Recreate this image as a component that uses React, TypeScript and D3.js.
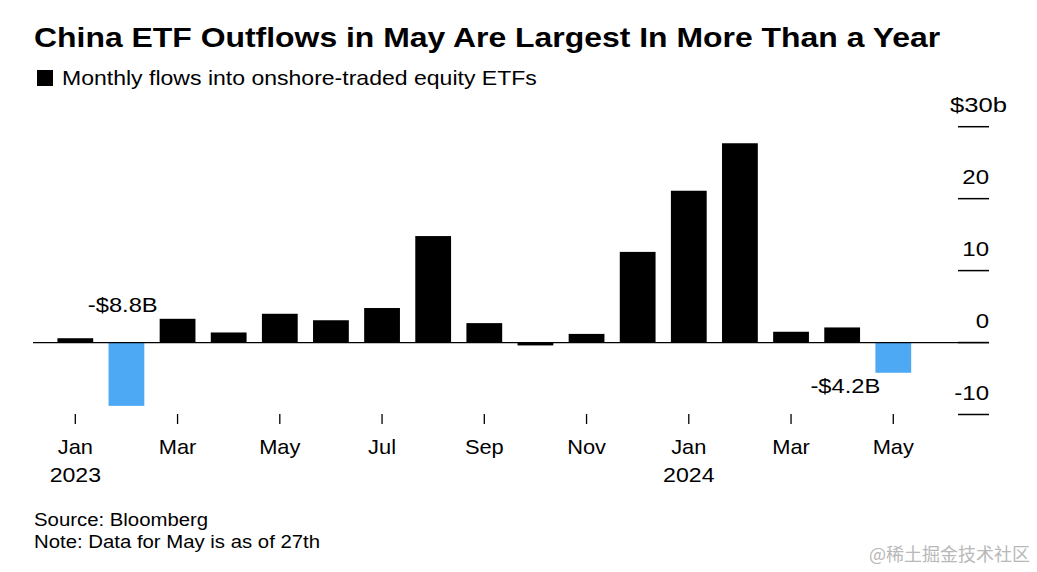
import React from "react";
import * as d3 from "d3";

const months = [
  "2023-01", "2023-02", "2023-03", "2023-04", "2023-05", "2023-06", "2023-07", "2023-08",
  "2023-09", "2023-10", "2023-11", "2023-12", "2024-01", "2024-02", "2024-03", "2024-04", "2024-05",
];
const flows = [0.6, -8.8, 3.3, 1.4, 4.0, 3.1, 4.8, 14.8, 2.7, -0.4, 1.2, 12.6, 21.1, 27.7, 1.5, 2.1, -4.2];
const highlighted = ["2023-02", "2024-05"];
const xTickMonths = ["2023-01", "2023-03", "2023-05", "2023-07", "2023-09", "2023-11", "2024-01", "2024-03", "2024-05"];
const xTickLabels = ["Jan", "Mar", "May", "Jul", "Sep", "Nov", "Jan", "Mar", "May"];
const xTickYears = ["2023", "", "", "", "", "", "2024", "", ""];
const yTicks = [30, 20, 10, 0, -10];
const annotations = [
  { month: "2023-02", text: "-$8.8B" },
  { month: "2024-05", text: "-$4.2B" },
];

const W = 1037;
const H = 572;
const FONT = "'Liberation Sans', Arial, Helvetica, sans-serif";
const BLUE = "#4ea9f4";

type STProps = {
  x: number;
  y: number;
  sx: number;
  size: number;
  anchor?: "start" | "middle" | "end";
  weight?: string;
  fill?: string;
  family?: string;
  children: React.ReactNode;
};

function ST({ x, y, sx, size, anchor = "start", weight, fill = "#000", family, children }: STProps) {
  return (
    <text
      transform={`translate(${x},${y}) scale(${sx},1)`}
      fontSize={size}
      textAnchor={anchor}
      fontWeight={weight}
      fill={fill}
      fontFamily={family}
    >
      {children}
    </text>
  );
}

export default function App() {
  const x = d3
    .scaleBand<string>()
    .domain(months)
    .range([49.75, 918.85])
    .paddingInner(0.3)
    .paddingOuter(0.15);
  const y = d3.scaleLinear().domain([-10, 30]).range([414.5, 126.7]);
  const cx = (m: string) => (x(m) ?? 0) + x.bandwidth() / 2;

  return (
    <div style={{ position: "absolute", left: 0, top: 0 }}>
      <svg width={W} height={H} style={{ display: "block", background: "#fff" }} fontFamily={FONT}>
        <ST x={34} y={47} sx={1.14} size={28} weight="bold">
          China ETF Outflows in May Are Largest In More Than a Year
        </ST>
        <rect x={37} y={70} width={16} height={16} fill="#000" />
        <ST x={62} y={85} sx={1.097} size={21}>
          Monthly flows into onshore-traded equity ETFs
        </ST>

        {/* y axis ticks */}
        {yTicks.map((t) => (
          <g key={t}>
            <line x1={958} x2={989} y1={y(t)} y2={y(t)} stroke="#000" strokeWidth={1.5} />
            <ST x={t === 30 ? 1007 : 989} y={y(t) - 14.5} sx={t === 30 ? 1.22 : 1.2} size={t === 30 ? 21 : 20} anchor="end">
              {t === 30 ? "$30b" : String(t)}
            </ST>
          </g>
        ))}

        {/* bars */}
        {months.map((m, i) => {
          const v = flows[i];
          const y0 = y(0);
          const y1 = y(v);
          return (
            <rect
              key={m}
              x={x(m)}
              width={x.bandwidth()}
              y={Math.min(y0, y1)}
              height={Math.abs(y1 - y0)}
              fill={highlighted.includes(m) ? BLUE : "#000"}
            />
          );
        })}

        {/* zero line */}
        <line x1={33} x2={989} y1={y(0)} y2={y(0)} stroke="#000" strokeWidth={1.3} />

        {/* annotations */}
        <ST x={cx(annotations[0].month) - 3.7} y={312} sx={1.13} size={21} anchor="middle">
          {annotations[0].text}
        </ST>
        <ST x={cx(annotations[1].month) - 13} y={393} sx={1.13} size={21} anchor="end">
          {annotations[1].text}
        </ST>

        {/* x ticks */}
        {xTickMonths.map((m, i) => (
          <g key={m}>
            <line x1={cx(m)} x2={cx(m)} y1={414} y2={424} stroke="#000" strokeWidth={1.3} />
            <ST x={cx(m)} y={454} sx={1.04} size={21} anchor="middle">
              {xTickLabels[i]}
            </ST>
            {xTickYears[i] && (
              <ST x={cx(m)} y={482} sx={1.1} size={21} anchor="middle">
                {xTickYears[i]}
              </ST>
            )}
          </g>
        ))}

        <ST x={34} y={526} sx={1.1} size={18.5}>
          Source: Bloomberg
        </ST>
        <ST x={34} y={548} sx={1.1} size={18.5}>
          Note: Data for May is as of 27th
        </ST>

        <ST x={1030} y={561} sx={1} size={18} anchor="end" fill="#b8b8b8" family="'Noto Sans CJK SC', sans-serif">
          @稀土掘金技术社区
        </ST>
      </svg>
    </div>
  );
}
